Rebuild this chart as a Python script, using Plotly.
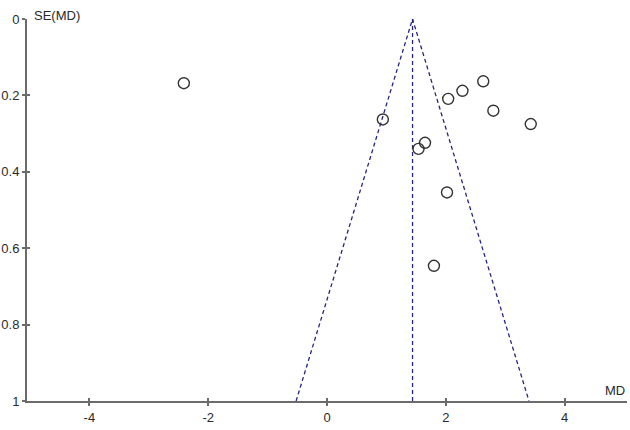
import plotly.graph_objects as go

# estudos (MD, SE)
md = [-2.41, 0.94, 2.04, 2.28, 2.63, 2.80, 3.43, 1.65, 1.54, 2.02, 1.80]
se = [0.168, 0.263, 0.209, 0.188, 0.163, 0.240, 0.275, 0.324, 0.340, 0.454, 0.646]

# efeito combinado e limites do funil
md_pooled = 1.44
z = 1.96
se_max = 1.0

x_ticks = [-4, -2, 0, 2, 4]
x_labels = ["-4", "-2", "0", "2", "4"]
y_ticks = [0, 0.2, 0.4, 0.6, 0.8, 1]
y_labels = ["0", "0.2", "0.4", "0.6", "0.8", "1"]

line_col = "#25257f"
axis_col = "#6b6b6b"
font = dict(family="Liberation Sans, Arial, sans-serif", size=13, color="#2a2a2a")

fig = go.Figure()

# funil
fig.add_trace(go.Scatter(
    x=[md_pooled - z * se_max, md_pooled, md_pooled + z * se_max],
    y=[se_max, 0, se_max],
    mode="lines", line=dict(color=line_col, width=1.3, dash="4px,3px"),
    hoverinfo="skip", showlegend=False))
fig.add_trace(go.Scatter(
    x=[md_pooled, md_pooled], y=[0, se_max],
    mode="lines", line=dict(color=line_col, width=1.3, dash="4px,3px"),
    hoverinfo="skip", showlegend=False))

# estudos
fig.add_trace(go.Scatter(
    x=md, y=se, mode="markers",
    marker=dict(symbol="circle-open", size=11, color="#333333", line=dict(width=1.4)),
    showlegend=False))

axis_common = dict(showgrid=False, zeroline=False, showline=True, automargin=False,
                   linecolor=axis_col, linewidth=2, ticks="outside",
                   ticklen=3, tickwidth=1.5, tickcolor=axis_col, tickfont=font)

fig.update_layout(
    width=630, height=430,
    margin=dict(l=27, r=3, t=19, b=29),
    paper_bgcolor="white", plot_bgcolor="white",
    xaxis=dict(range=[-5.05, 5.05], tickvals=x_ticks, ticktext=x_labels, **axis_common),
    yaxis=dict(range=[1, 0], tickvals=y_ticks, ticktext=y_labels, **axis_common),
    # ticks internos para o efeito de cruz
    xaxis2=dict(overlaying="x", range=[-5.05, 5.05], tickvals=x_ticks,
                showticklabels=False, ticks="inside", ticklen=3, tickwidth=1.5,
                tickcolor=axis_col, showgrid=False, zeroline=False, side="bottom"),
    yaxis2=dict(overlaying="y", range=[1, 0], tickvals=y_ticks,
                showticklabels=False, ticks="inside", ticklen=3, tickwidth=1.5,
                tickcolor=axis_col, showgrid=False, zeroline=False, side="left"),
)

fig.add_trace(go.Scatter(x=[None], y=[None], xaxis="x2", yaxis="y2",
                         showlegend=False, hoverinfo="skip"))

fig.add_annotation(text="SE(MD)", xref="paper", yref="paper", x=0.008, y=1.0,
                   xanchor="left", yanchor="bottom", yshift=-6, showarrow=False, font=font)
fig.add_annotation(text="MD", xref="paper", yref="paper", x=1.0, y=0,
                   xanchor="right", yanchor="bottom", yshift=1, showarrow=False, font=font)

# tira a margem padrão do body para a figura ocupar a janela toda
fig.write_html("out.html", config={"displayModeBar": False},
               post_script="document.body.style.margin='0';")
